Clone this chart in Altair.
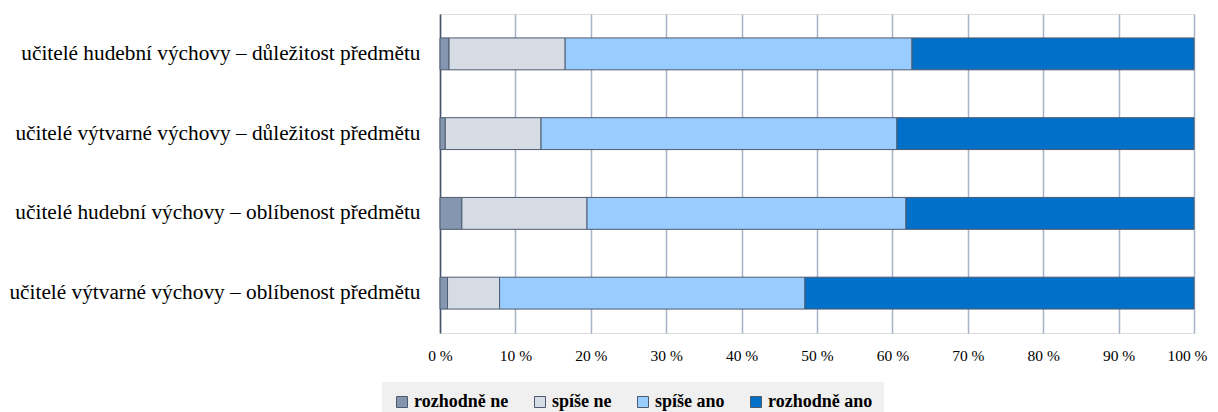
import altair as alt
import pandas as pd

rows = [
    "učitelé hudební výchovy – důležitost předmětu",
    "učitelé výtvarné výchovy – důležitost předmětu",
    "učitelé hudební výchovy – oblíbenost předmětu",
    "učitelé výtvarné výchovy – oblíbenost předmětu",
]
categories = ["rozhodně ne", "spíše ne", "spíše ano", "rozhodně ano"]
colors = ["#8496b0", "#d6dce4", "#99ccff", "#0070c8"]

rozhodne_ne = [1.2, 0.7, 2.9, 1.0]
spise_ne = [15.4, 12.7, 16.6, 6.9]
spise_ano = [46.0, 47.2, 42.3, 40.5]
rozhodne_ano = [37.4, 39.4, 38.2, 51.6]

series = [rozhodne_ne, spise_ne, spise_ano, rozhodne_ano]
x_ticks = [0, 10, 20, 30, 40, 50, 60, 70, 80, 90, 100]

records = []
for ci, (cat, vals) in enumerate(zip(categories, series)):
    for r, v in zip(rows, vals):
        records.append({"row": r, "cat": cat, "value": v, "ord": ci})
df = pd.DataFrame(records)

FONT = "Liberation Serif"

chart = alt.Chart(df).mark_bar(stroke="#4d5a6e", strokeWidth=1).encode(
    y=alt.Y("row:N", sort=rows, title=None,
            scale=alt.Scale(paddingInner=0.6, paddingOuter=0.3),
            axis=alt.Axis(labelFont=FONT, labelFontSize=21.3, labelColor="#000000",
                          labelPadding=20, ticks=False, domainColor="#44546a",
                          domainWidth=1.5, grid=False, labelLimit=700)),
    x=alt.X("value:Q", stack="zero", title=None,
            scale=alt.Scale(domain=[0, 100], nice=False),
            axis=alt.Axis(values=x_ticks, labelExpr="datum.value + ' %'",
                          labelFont=FONT, labelFontSize=15.5, labelColor="#000000",
                          labelPadding=15, labelFlush=False, ticks=False, domain=False,
                          labelOffset=alt.ExprRef("datum.value == 100 ? -7 : 0"),
                          grid=True, gridColor="#a7b2c8", gridWidth=1.5)),
    color=alt.Color("cat:N", sort=categories,
                    scale=alt.Scale(domain=categories, range=colors),
                    legend=alt.Legend(title=None, orient="none", direction="horizontal",
                                      legendX=-58, legendY=368,
                                      labelFont=FONT, labelFontSize=18, labelFontWeight="bold",
                                      labelColor="#000000", symbolType="square",
                                      symbolSize=121, symbolStrokeColor="#4d5a6e",
                                      symbolStrokeWidth=1, labelOffset=3,
                                      columnPadding=22, fillColor="#f0f0f0",
                                      padding=11)),
    order=alt.Order("ord:Q"),
).properties(
    width=754, height=319,
    autosize=alt.AutoSizeParams(type="none"),
    padding={"left": 432, "top": 6, "right": 16, "bottom": 84},
).configure_view(stroke=None).configure(background="#ffffff")

chart.save("out.html", embed_options={"renderer": "svg", "actions": False})
